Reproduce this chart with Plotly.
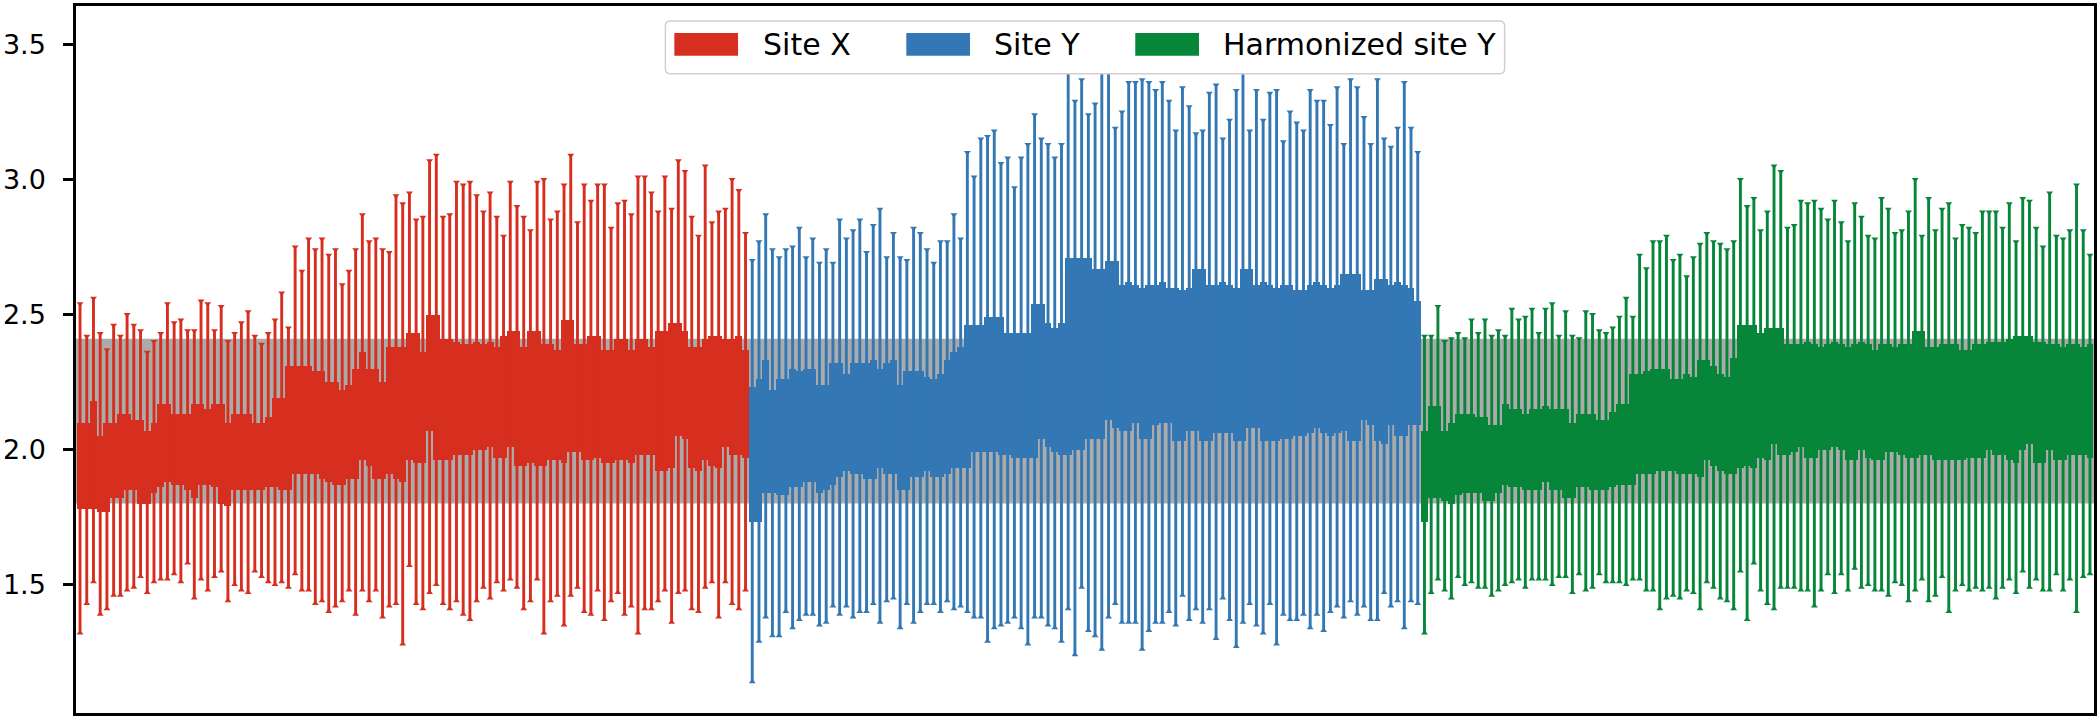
import plotly.graph_objects as go

# Categories (one box per subject, 100 per site)
groups = ["Site X", "Site Y", "Harmonized site Y"]
colors = ["#d62f1f", "#3378b5", "#07863a"]
ytick_vals = [1.5, 2.0, 2.5, 3.0, 3.5]
band_range = [1.80, 2.41]

# Site X
site_x_high = [2.54, 2.42, 2.56, 2.43, 2.37, 2.46, 2.42, 2.50, 2.46, 2.44,
               2.36, 2.40, 2.43, 2.54, 2.47, 2.48, 2.44, 2.44, 2.55, 2.54,
               2.44, 2.53, 2.40, 2.43, 2.47, 2.51, 2.42, 2.39, 2.43, 2.48,
               2.58, 2.45, 2.75, 2.66, 2.78, 2.74, 2.78, 2.72, 2.74, 2.61,
               2.66, 2.74, 2.87, 2.77, 2.78, 2.74, 2.73, 2.94, 2.91, 2.95,
               2.85, 2.86, 3.07, 3.09, 2.86, 2.87, 2.99, 2.98, 2.99, 2.94,
               2.88, 2.95, 2.86, 2.79, 2.99, 2.90, 2.86, 2.81, 2.99, 3.00,
               2.85, 2.88, 2.98, 3.09, 2.84, 2.98, 2.92, 2.98, 2.98, 2.82,
               2.91, 2.92, 2.87, 3.01, 3.01, 2.95, 2.88, 3.01, 2.89, 3.07,
               3.03, 2.86, 2.79, 3.05, 2.84, 2.88, 2.89, 3.00, 2.96, 2.80]
site_x_q3 = [2.10, 2.10, 2.18, 2.05, 2.10, 2.10, 2.13, 2.13, 2.11, 2.11,
             2.07, 2.10, 2.17, 2.17, 2.13, 2.13, 2.13, 2.17, 2.17, 2.15,
             2.17, 2.17, 2.10, 2.13, 2.13, 2.13, 2.10, 2.10, 2.12, 2.19,
             2.19, 2.31, 2.31, 2.31, 2.31, 2.29, 2.29, 2.25, 2.25, 2.22,
             2.24, 2.30, 2.36, 2.30, 2.30, 2.25, 2.38, 2.38, 2.38, 2.43,
             2.43, 2.36, 2.50, 2.50, 2.41, 2.41, 2.40, 2.39, 2.39, 2.40,
             2.39, 2.40, 2.38, 2.42, 2.44, 2.44, 2.38, 2.44, 2.44, 2.39,
             2.39, 2.37, 2.48, 2.48, 2.39, 2.39, 2.42, 2.42, 2.37, 2.37,
             2.41, 2.41, 2.37, 2.41, 2.41, 2.38, 2.44, 2.44, 2.47, 2.47,
             2.44, 2.38, 2.38, 2.41, 2.42, 2.42, 2.41, 2.41, 2.42, 2.37]
site_x_q1 = [1.78, 1.78, 1.78, 1.77, 1.77, 1.82, 1.82, 1.85, 1.85, 1.80,
             1.80, 1.84, 1.86, 1.88, 1.87, 1.87, 1.85, 1.82, 1.87, 1.87,
             1.86, 1.80, 1.79, 1.85, 1.85, 1.85, 1.85, 1.85, 1.86, 1.86,
             1.85, 1.85, 1.91, 1.91, 1.91, 1.91, 1.89, 1.88, 1.87, 1.87,
             1.89, 1.89, 1.96, 1.94, 1.89, 1.89, 1.91, 1.89, 1.88, 1.96,
             1.95, 1.95, 2.07, 1.96, 1.96, 1.96, 1.98, 1.98, 1.98, 2.00,
             2.00, 2.01, 1.97, 1.97, 2.01, 1.94, 1.94, 1.95, 1.94, 1.94,
             1.96, 1.96, 1.95, 1.99, 1.99, 1.96, 1.96, 1.97, 1.95, 1.95,
             1.96, 1.96, 1.95, 1.98, 1.98, 1.98, 1.92, 1.92, 1.93, 2.05,
             2.04, 1.93, 1.92, 1.96, 1.94, 1.93, 2.01, 1.98, 1.98, 1.97]
site_x_low = [1.32, 1.43, 1.51, 1.39, 1.41, 1.46, 1.46, 1.48, 1.49, 1.53,
              1.47, 1.51, 1.52, 1.52, 1.54, 1.51, 1.58, 1.45, 1.52, 1.48,
              1.53, 1.55, 1.44, 1.50, 1.48, 1.47, 1.55, 1.53, 1.51, 1.50,
              1.51, 1.49, 1.54, 1.48, 1.48, 1.43, 1.44, 1.40, 1.42, 1.44,
              1.48, 1.39, 1.48, 1.44, 1.48, 1.38, 1.42, 1.43, 1.28, 1.57,
              1.43, 1.41, 1.47, 1.50, 1.43, 1.41, 1.44, 1.39, 1.37, 1.44,
              1.49, 1.45, 1.51, 1.48, 1.52, 1.49, 1.41, 1.44, 1.52, 1.32,
              1.44, 1.46, 1.35, 1.46, 1.49, 1.40, 1.39, 1.48, 1.37, 1.44,
              1.47, 1.39, 1.42, 1.32, 1.41, 1.41, 1.44, 1.48, 1.36, 1.47,
              1.48, 1.41, 1.40, 1.49, 1.51, 1.38, 1.51, 1.43, 1.41, 1.48]

# Site Y
site_y_high = [2.70, 2.77, 2.87, 2.74, 2.71, 2.74, 2.75, 2.82, 2.71, 2.78,
               2.69, 2.74, 2.69, 2.85, 2.78, 2.81, 2.85, 2.73, 2.83, 2.89,
               2.71, 2.80, 2.71, 2.70, 2.82, 2.80, 2.74, 2.69, 2.77, 2.77,
               2.87, 2.78, 3.10, 3.01, 3.15, 3.16, 3.18, 3.06, 3.08, 2.97,
               3.08, 3.13, 3.24, 3.15, 3.13, 3.08, 3.13, 3.42, 3.29, 3.37,
               3.24, 3.28, 3.42, 3.42, 3.19, 3.25, 3.36, 3.36, 3.37, 3.36,
               3.33, 3.36, 3.29, 3.18, 3.34, 3.27, 3.17, 3.18, 3.32, 3.35,
               3.15, 3.22, 3.33, 3.42, 3.18, 3.33, 3.22, 3.32, 3.33, 3.14,
               3.25, 3.21, 3.18, 3.33, 3.29, 3.29, 3.20, 3.34, 3.13, 3.37,
               3.34, 3.23, 3.13, 3.37, 3.15, 3.12, 3.19, 3.36, 3.19, 3.10]
site_y_q3 = [2.23, 2.26, 2.33, 2.22, 2.26, 2.26, 2.30, 2.29, 2.30, 2.30,
             2.24, 2.24, 2.32, 2.32, 2.28, 2.32, 2.32, 2.32, 2.33, 2.30,
             2.32, 2.33, 2.24, 2.29, 2.29, 2.29, 2.27, 2.26, 2.28, 2.33,
             2.36, 2.38, 2.46, 2.46, 2.46, 2.49, 2.49, 2.49, 2.43, 2.43,
             2.43, 2.43, 2.54, 2.54, 2.47, 2.45, 2.47, 2.71, 2.71, 2.71,
             2.71, 2.67, 2.67, 2.70, 2.70, 2.61, 2.62, 2.61, 2.60, 2.61,
             2.61, 2.62, 2.60, 2.60, 2.59, 2.60, 2.67, 2.67, 2.61, 2.61,
             2.62, 2.61, 2.60, 2.67, 2.67, 2.61, 2.62, 2.61, 2.60, 2.61,
             2.61, 2.59, 2.59, 2.61, 2.62, 2.61, 2.60, 2.61, 2.65, 2.65,
             2.65, 2.59, 2.59, 2.63, 2.63, 2.61, 2.62, 2.61, 2.60, 2.55]
site_y_q1 = [1.73, 1.73, 1.84, 1.84, 1.83, 1.83, 1.86, 1.86, 1.88, 1.88,
             1.84, 1.85, 1.87, 1.90, 1.92, 1.91, 1.91, 1.89, 1.89, 1.93,
             1.91, 1.91, 1.85, 1.85, 1.90, 1.90, 1.92, 1.90, 1.90, 1.91,
             1.93, 1.93, 1.93, 1.99, 1.99, 1.99, 1.99, 1.98, 1.98, 1.97,
             1.97, 1.97, 1.97, 2.04, 2.01, 1.99, 1.98, 1.98, 2.00, 2.00,
             2.04, 2.04, 2.04, 2.11, 2.08, 2.07, 2.07, 2.10, 2.04, 2.04,
             2.09, 2.10, 2.10, 2.03, 2.03, 2.07, 2.07, 2.03, 2.03, 2.06,
             2.06, 2.06, 2.03, 2.03, 2.08, 2.08, 2.03, 2.03, 2.03, 2.04,
             2.04, 2.05, 2.05, 2.06, 2.08, 2.06, 2.05, 2.06, 2.07, 2.03,
             2.03, 2.11, 2.09, 2.03, 2.02, 2.09, 2.05, 2.05, 2.09, 2.09]
site_y_low = [1.14, 1.29, 1.38, 1.31, 1.31, 1.40, 1.34, 1.37, 1.39, 1.39,
              1.35, 1.36, 1.42, 1.39, 1.42, 1.38, 1.40, 1.40, 1.43, 1.36,
              1.44, 1.45, 1.34, 1.43, 1.36, 1.40, 1.43, 1.43, 1.40, 1.44,
              1.41, 1.42, 1.40, 1.38, 1.38, 1.29, 1.34, 1.35, 1.36, 1.38,
              1.34, 1.28, 1.38, 1.38, 1.35, 1.34, 1.29, 1.41, 1.24, 1.49,
              1.33, 1.31, 1.26, 1.38, 1.43, 1.36, 1.36, 1.36, 1.26, 1.33,
              1.36, 1.36, 1.40, 1.35, 1.46, 1.37, 1.41, 1.36, 1.41, 1.30,
              1.45, 1.37, 1.27, 1.36, 1.43, 1.35, 1.32, 1.43, 1.28, 1.39,
              1.37, 1.37, 1.39, 1.34, 1.39, 1.33, 1.40, 1.42, 1.38, 1.44,
              1.39, 1.42, 1.37, 1.37, 1.47, 1.42, 1.44, 1.34, 1.44, 1.43]

# Harmonized site Y
harm_y_high = [2.42, 2.42, 2.53, 2.40, 2.41, 2.43, 2.41, 2.48, 2.43, 2.48,
               2.42, 2.44, 2.42, 2.52, 2.48, 2.49, 2.52, 2.43, 2.52, 2.54,
               2.42, 2.51, 2.42, 2.41, 2.51, 2.50, 2.44, 2.43, 2.45, 2.49,
               2.56, 2.49, 2.72, 2.67, 2.77, 2.77, 2.79, 2.70, 2.72, 2.64,
               2.71, 2.76, 2.80, 2.77, 2.76, 2.74, 2.77, 3.00, 2.90, 2.93,
               2.81, 2.88, 3.05, 3.03, 2.82, 2.83, 2.92, 2.91, 2.92, 2.89,
               2.85, 2.92, 2.84, 2.77, 2.91, 2.86, 2.79, 2.78, 2.93, 2.89,
               2.80, 2.81, 2.88, 3.00, 2.79, 2.93, 2.81, 2.89, 2.91, 2.78,
               2.83, 2.82, 2.80, 2.88, 2.88, 2.88, 2.82, 2.91, 2.77, 2.93,
               2.92, 2.82, 2.75, 2.95, 2.79, 2.78, 2.81, 2.98, 2.81, 2.72]
harm_y_q3 = [2.07, 2.16, 2.16, 2.07, 2.10, 2.13, 2.13, 2.13, 2.12, 2.12,
             2.09, 2.09, 2.17, 2.15, 2.15, 2.13, 2.15, 2.15, 2.16, 2.15,
             2.15, 2.15, 2.10, 2.13, 2.13, 2.13, 2.11, 2.11, 2.14, 2.17,
             2.17, 2.28, 2.28, 2.29, 2.30, 2.30, 2.30, 2.26, 2.26, 2.28,
             2.27, 2.33, 2.33, 2.31, 2.28, 2.27, 2.34, 2.46, 2.46, 2.46,
             2.43, 2.45, 2.45, 2.45, 2.39, 2.39, 2.39, 2.40, 2.39, 2.38,
             2.39, 2.40, 2.39, 2.38, 2.39, 2.40, 2.39, 2.37, 2.39, 2.39,
             2.38, 2.39, 2.39, 2.44, 2.44, 2.38, 2.38, 2.39, 2.39, 2.39,
             2.37, 2.37, 2.39, 2.39, 2.40, 2.40, 2.40, 2.41, 2.42, 2.42,
             2.42, 2.40, 2.40, 2.39, 2.39, 2.38, 2.39, 2.39, 2.38, 2.39]
harm_y_q1 = [1.73, 1.82, 1.82, 1.81, 1.80, 1.83, 1.84, 1.84, 1.84, 1.81,
             1.81, 1.84, 1.87, 1.86, 1.86, 1.85, 1.85, 1.85, 1.88, 1.85,
             1.85, 1.82, 1.82, 1.86, 1.86, 1.85, 1.85, 1.85, 1.86, 1.87,
             1.87, 1.87, 1.91, 1.91, 1.91, 1.92, 1.92, 1.92, 1.91, 1.91,
             1.91, 1.90, 1.96, 1.94, 1.92, 1.91, 1.91, 1.93, 1.94, 1.93,
             1.97, 1.96, 2.02, 1.98, 1.98, 1.99, 2.01, 1.97, 1.97, 2.00,
             2.00, 2.01, 2.00, 1.96, 1.96, 2.00, 1.97, 1.96, 1.96, 1.99,
             1.99, 1.98, 1.97, 1.97, 1.98, 1.98, 1.96, 1.96, 1.96, 1.96,
             1.96, 1.97, 1.97, 1.97, 2.00, 1.98, 1.98, 1.96, 1.95, 2.00,
             2.02, 1.95, 1.95, 2.00, 1.96, 1.96, 1.98, 1.98, 1.98, 1.97]
harm_y_low = [1.32, 1.47, 1.52, 1.48, 1.45, 1.53, 1.50, 1.51, 1.49, 1.49,
              1.46, 1.48, 1.50, 1.51, 1.52, 1.49, 1.52, 1.52, 1.52, 1.50,
              1.53, 1.53, 1.47, 1.54, 1.48, 1.49, 1.54, 1.51, 1.51, 1.51,
              1.50, 1.52, 1.52, 1.48, 1.48, 1.41, 1.45, 1.46, 1.45, 1.48,
              1.47, 1.41, 1.51, 1.49, 1.45, 1.44, 1.41, 1.55, 1.37, 1.58,
              1.48, 1.43, 1.41, 1.49, 1.49, 1.49, 1.48, 1.48, 1.42, 1.48,
              1.54, 1.47, 1.54, 1.48, 1.56, 1.49, 1.50, 1.48, 1.48, 1.46,
              1.51, 1.50, 1.44, 1.48, 1.52, 1.44, 1.46, 1.53, 1.40, 1.48,
              1.50, 1.48, 1.49, 1.48, 1.49, 1.45, 1.49, 1.52, 1.47, 1.55,
              1.49, 1.52, 1.48, 1.48, 1.54, 1.48, 1.52, 1.40, 1.53, 1.54]

series = [
    (site_x_low, site_x_q1, site_x_q3, site_x_high),
    (site_y_low, site_y_q1, site_y_q3, site_y_high),
    (harm_y_low, harm_y_q1, harm_y_q3, harm_y_high),
]

# page geometry (pixels)
W, H = 2100, 718
ML, MR, MT, MB = 68, 5, 3, 5
PW, PH = W - ML - MR, H - MT - MB


def px(x):
    return (x - ML) / PW


def py(y):
    return (H - MB - y) / PH


fig = go.Figure()

offset = 0
for name, color, (low, q1, q3, high) in zip(groups, colors, series):
    n = len(q1)
    xs = [offset + i for i in range(n)]
    # box (q1 -> q3), slightly overlapping so neighbours merge
    fig.add_trace(go.Bar(
        x=xs, y=[b - a for a, b in zip(q1, q3)], base=q1, width=1.03,
        marker=dict(color=color, line=dict(width=0)),
        name=name, showlegend=False, hoverinfo="skip",
    ))
    # whiskers
    wx, wy = [], []
    for x, a, b in zip(xs, low, high):
        wx += [x, x, None]
        wy += [a, b, None]
    fig.add_trace(go.Scatter(
        x=wx, y=wy, mode="lines", line=dict(color=color, width=2.9),
        showlegend=False, hoverinfo="skip",
    ))
    # caps
    fig.add_trace(go.Scatter(
        x=xs + xs, y=high + low, mode="markers",
        marker=dict(symbol=["triangle-down"] * n + ["triangle-up"] * n,
                    size=6, color=color, line=dict(width=0)),
        showlegend=False, hoverinfo="skip",
    ))
    offset += n

# grey reference band behind everything
fig.add_shape(type="rect", xref="paper", yref="y", x0=0, x1=1,
              y0=band_range[0], y1=band_range[1],
              fillcolor="#ababab", line=dict(width=0), layer="below")

# legend drawn by hand (matplotlib style patches)
lx0, lx1, ly0, ly1, rad = 660, 1503, 18, 71, 5
rx, ry = rad / PW, rad / PH
X0, X1, Y0, Y1 = px(lx0), px(lx1), py(ly1), py(ly0)
frame = (f"M{X0 + rx},{Y0} L{X1 - rx},{Y0} Q{X1},{Y0} {X1},{Y0 + ry} "
         f"L{X1},{Y1 - ry} Q{X1},{Y1} {X1 - rx},{Y1} L{X0 + rx},{Y1} "
         f"Q{X0},{Y1} {X0},{Y1 - ry} L{X0},{Y0 + ry} Q{X0},{Y0} {X0 + rx},{Y0} Z")
fig.add_shape(type="path", path=frame, xref="paper", yref="paper",
              fillcolor="white", line=dict(color="#d0d0d0", width=1.5), layer="above")

patch_x = [669, 902, 1132]
text_x = [756, 988, 1218]
for name, color, p0, t0 in zip(groups, colors, patch_x, text_x):
    fig.add_shape(type="rect", xref="paper", yref="paper",
                  x0=px(p0), x1=px(p0 + 64), y0=py(53), y1=py(30),
                  fillcolor=color, line=dict(width=0), layer="above")
    fig.add_annotation(x=px(t0), y=py(41.5), xref="paper", yref="paper",
                       text=name, showarrow=False, xanchor="left", yanchor="middle",
                       font=dict(family="DejaVu Sans", size=30, color="black"))

fig.update_layout(
    width=W, height=H,
    margin=dict(l=ML, r=MR, t=MT, b=MB),
    plot_bgcolor="white", paper_bgcolor="white",
    barmode="overlay", bargap=0,
    showlegend=False,
    font=dict(family="DejaVu Sans", color="black"),
)
fig.update_xaxes(range=[-0.6, offset - 0.4], showticklabels=False, ticks="",
                 showgrid=False, zeroline=False,
                 showline=True, mirror=True, linecolor="black", linewidth=2.5)
fig.update_yaxes(range=[1.024, 3.643], tickvals=ytick_vals,
                 ticktext=[f"{v:.1f}" for v in ytick_vals],
                 ticks="outside", ticklen=10, tickwidth=2.5, tickcolor="black",
                 ticklabelstandoff=12, tickfont=dict(family="DejaVu Sans", size=27, color="black"),
                 showgrid=False, zeroline=False,
                 showline=True, mirror=True, linecolor="black", linewidth=2.5)

fig.write_html(
    "out.html",
    config={"displayModeBar": False},
    post_script="document.body.style.margin='0';document.body.style.overflow='hidden';",
)
